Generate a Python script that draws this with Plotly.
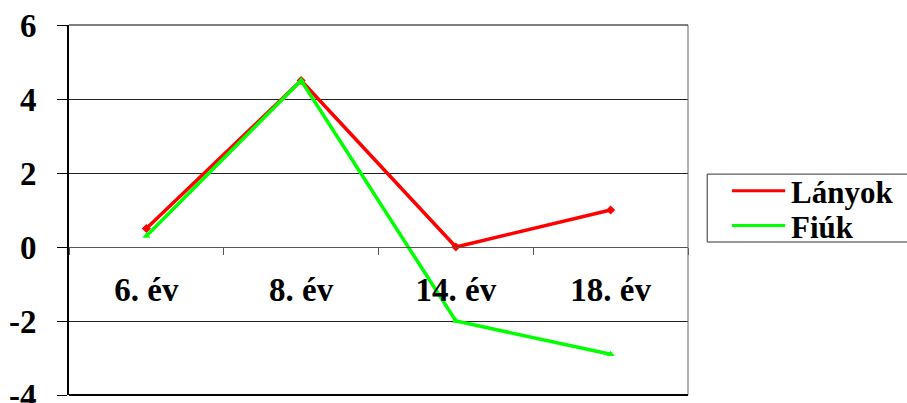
import plotly.graph_objects as go

# Age groups and the two series
categories = ["6. év", "8. év", "14. év", "18. év"]
series_names = ["Lányok", "Fiúk"]
lanyok = [0.5, 4.5, 0.0, 1.0]
fiuk = [0.3, 4.5, -2.0, -2.9]
series_colors = ["#ff0000", "#00ff00"]

y_ticks = [-4, -2, 0, 2, 4, 6]
y_tick_text = ["-4", "-2", "0", "2", "4", "6"]

FONT = '"Liberation Serif", "Times New Roman", serif'

fig = go.Figure()
fig.add_trace(go.Scatter(
    x=categories, y=lanyok, name=series_names[0], mode="lines+markers",
    line=dict(color=series_colors[0], width=3.5),
    marker=dict(symbol="diamond", size=7, color=series_colors[0]),
))
fig.add_trace(go.Scatter(
    x=categories, y=fiuk, name=series_names[1], mode="lines+markers",
    line=dict(color=series_colors[1], width=3.5),
    marker=dict(symbol="triangle-up", size=7, color=series_colors[1]),
))

# Frame around the plot area: grey top/right, black left/bottom
shapes = [
    dict(type="line", xref="paper", yref="paper", x0=1, x1=1, y0=0, y1=1,
         line=dict(color="#666666", width=1)),
    dict(type="line", xref="paper", yref="paper", x0=0, x1=1, y0=1, y1=1,
         line=dict(color="black", width=1)),
    dict(type="line", xref="paper", yref="paper", x0=0, x1=1, y0=0, y1=0,
         line=dict(color="black", width=2)),
]

# Legend box on the right, drawn in paper coordinates
legend_left, legend_right = 1.031, 1.36
legend_bottom, legend_top = 0.4135, 0.597
row_y = [0.552, 0.458]
shapes.append(dict(type="rect", xref="paper", yref="paper",
                   x0=legend_left, x1=legend_right, y0=legend_bottom, y1=legend_top,
                   line=dict(color="#333333", width=1), fillcolor="white", layer="below"))
annotations = []
for name, color, ry in zip(series_names, series_colors, row_y):
    shapes.append(dict(type="line", xref="paper", yref="paper",
                       x0=1.071, x1=1.157, y0=ry, y1=ry,
                       line=dict(color=color, width=3)))
    annotations.append(dict(xref="paper", yref="paper", x=1.163, y=ry - 0.005,
                            xanchor="left", yanchor="middle", showarrow=False,
                            text=name,
                            font=dict(family=FONT, size=31, color="black", weight="bold")))

fig.update_layout(
    width=907, height=403,
    margin=dict(l=69, r=219, t=25, b=8, autoexpand=False),
    paper_bgcolor="white", plot_bgcolor="white",
    font=dict(family=FONT, color="black"),
    showlegend=False,
    xaxis=dict(
        type="category", range=[-0.5, 3.5],
        anchor="free", position=0.4, automargin=False,
        showline=True, linecolor="#555555", linewidth=1,
        ticks="outside", tickson="boundaries", ticklen=7, tickcolor="#555555",
        showgrid=False, zeroline=False,
        tickfont=dict(family=FONT, size=33, color="black", weight="bold"),
        ticklabelstandoff=13,
    ),
    yaxis=dict(
        range=[-4, 6], tickvals=y_ticks, ticktext=y_tick_text, automargin=False,
        showline=True, linecolor="black", linewidth=2,
        ticks="outside", ticklen=10, tickcolor="black",
        showgrid=True, gridcolor="#222222", gridwidth=1, zeroline=False,
        tickfont=dict(family=FONT, size=33, color="black", weight="bold"),
        ticklabelstandoff=14, ticklabeloverflow="allow",
    ),
    shapes=shapes,
    annotations=annotations,
)

fig.write_html("out.html")
